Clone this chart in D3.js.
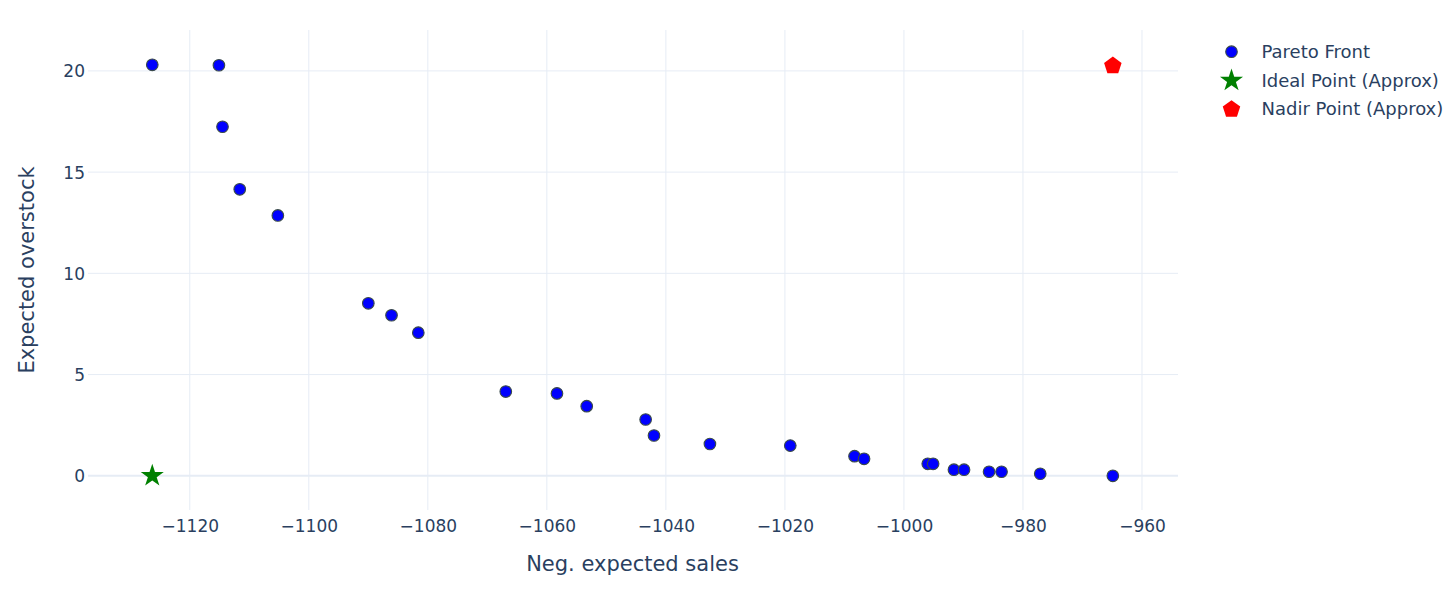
<!DOCTYPE html>
<html>
<head>
<meta charset="utf-8">
<script src="https://cdn.jsdelivr.net/npm/d3@7"></script>
<style>
  html, body { margin: 0; padding: 0; background: #fff; }
  svg { display: block; font-family: "DejaVu Sans", Verdana, sans-serif; }
</style>
</head>
<body>
<svg id="chart" width="1456" height="589"></svg>
<script>
// ---- Data ----
const paretoX = [-1126.3, -1115.1, -1114.5, -1111.6, -1105.2, -1090.0, -1086.1, -1081.6,
                 -1066.9, -1058.3, -1053.3, -1043.4, -1042.0, -1032.6, -1019.1,
                 -1008.3, -1006.7, -996.0, -995.1, -991.6, -989.9, -985.7, -983.6, -977.1, -964.9];
const paretoY = [20.3, 20.28, 17.24, 14.15, 12.86, 8.52, 7.93, 7.07,
                 4.16, 4.07, 3.44, 2.78, 1.99, 1.57, 1.49,
                 0.97, 0.84, 0.59, 0.59, 0.30, 0.30, 0.20, 0.20, 0.10, 0.0];
const idealX = [-1126.3];
const idealY = [0];
const nadirX = [-964.9];
const nadirY = [20.3];
const xTicks = [-1120, -1100, -1080, -1060, -1040, -1020, -1000, -980, -960];
const yTicks = [0, 5, 10, 15, 20];
const legendLabels = ["Pareto Front", "Ideal Point (Approx)", "Nadir Point (Approx)"];

// ---- Layout ----
const svg = d3.select("#chart");
const plot = { left: 88, right: 1178, top: 30, bottom: 510 };
const textColor = "#2a3f5f";
const gridColor = "#E6ECF5";

const x = d3.scaleLinear().domain([-1137.1, -953.95]).range([plot.left, plot.right]);
const y = d3.scaleLinear().domain([-1.69, 22.02]).range([plot.bottom, plot.top]);

// gridlines
const g = svg.append("g");
g.selectAll("line.vgrid").data(xTicks).enter().append("line")
  .attr("x1", d => x(d)).attr("x2", d => x(d))
  .attr("y1", plot.top).attr("y2", plot.bottom)
  .attr("stroke", gridColor).attr("stroke-width", 1);
g.selectAll("line.hgrid").data(yTicks).enter().append("line")
  .attr("x1", plot.left).attr("x2", plot.right)
  .attr("y1", d => y(d)).attr("y2", d => y(d))
  .attr("stroke", gridColor).attr("stroke-width", d => d === 0 ? 2 : 1);

// axes (labels only, via d3 axes)
const xAxis = d3.axisBottom(x).tickValues(xTicks).tickSize(0).tickPadding(0)
  .tickFormat(d => d3.format("d")(d).replace("-", "\u2212"));
const xa = svg.append("g").attr("transform", `translate(0,${plot.bottom})`).call(xAxis);
xa.select(".domain").remove();
xa.selectAll("text").attr("fill", textColor).attr("font-size", 17)
  .attr("font-family", "DejaVu Sans, Verdana, sans-serif")
  .attr("dy", null).attr("y", 22);

const yAxis = d3.axisLeft(y).tickValues(yTicks).tickSize(0).tickPadding(0);
const ya = svg.append("g").attr("transform", `translate(${plot.left - 3},0)`).call(yAxis);
ya.select(".domain").remove();
ya.selectAll("text").attr("fill", textColor).attr("font-size", 17)
  .attr("font-family", "DejaVu Sans, Verdana, sans-serif")
  .attr("dy", "0.35em").attr("x", 0);

// axis titles
svg.append("text").attr("x", 632.5).attr("y", 571)
  .attr("text-anchor", "middle").attr("fill", textColor).attr("font-size", 21)
  .text("Neg. expected sales");
svg.append("text").attr("transform", `translate(34,270) rotate(-90)`)
  .attr("text-anchor", "middle").attr("fill", textColor).attr("font-size", 21)
  .text("Expected overstock");

// symbols
const starPath = d3.symbol().type(d3.symbolStar).size(165)();
function pentagonPath(R) {
  const pts = d3.range(5).map(i => {
    const a = -Math.PI / 2 + i * 2 * Math.PI / 5;
    return [R * Math.cos(a), R * Math.sin(a) + R * 0.1];
  });
  return "M" + pts.map(p => p.join(",")).join("L") + "Z";
}
const pentPath = pentagonPath(9.2);

const pts = paretoX.map((d, i) => ({ x: d, y: paretoY[i] }));
svg.append("g").selectAll("circle").data(pts).enter().append("circle")
  .attr("cx", d => x(d.x)).attr("cy", d => y(d.y)).attr("r", 5.8)
  .attr("fill", "#0000ff").attr("stroke", "#3a4a4a").attr("stroke-width", 1.1);

svg.append("g").selectAll("path").data(idealX.map((d, i) => ({ x: d, y: idealY[i] }))).enter()
  .append("path").attr("d", starPath)
  .attr("transform", d => `translate(${x(d.x)},${y(d.y)})`)
  .attr("fill", "#008000");

svg.append("g").selectAll("path").data(nadirX.map((d, i) => ({ x: d, y: nadirY[i] }))).enter()
  .append("path").attr("d", pentPath)
  .attr("transform", d => `translate(${x(d.x)},${y(d.y)})`)
  .attr("fill", "#ff0000");

// legend
const leg = svg.append("g");
const legY = [51.7, 80.5, 108.5];
const lx = 1231.5;
leg.append("circle").attr("cx", lx).attr("cy", legY[0]).attr("r", 5.8)
  .attr("fill", "#0000ff").attr("stroke", "#3a4a4a").attr("stroke-width", 1.1);
leg.append("path").attr("d", starPath).attr("transform", `translate(${lx},${legY[1]})`).attr("fill", "#008000");
leg.append("path").attr("d", pentPath).attr("transform", `translate(${lx},${legY[2]})`).attr("fill", "#ff0000");
leg.selectAll("text").data(legendLabels).enter().append("text")
  .attr("x", 1261.5).attr("y", (d, i) => legY[i]).attr("dy", "0.36em")
  .attr("fill", textColor).attr("font-size", 18).text(d => d);
</script>
</body>
</html>
